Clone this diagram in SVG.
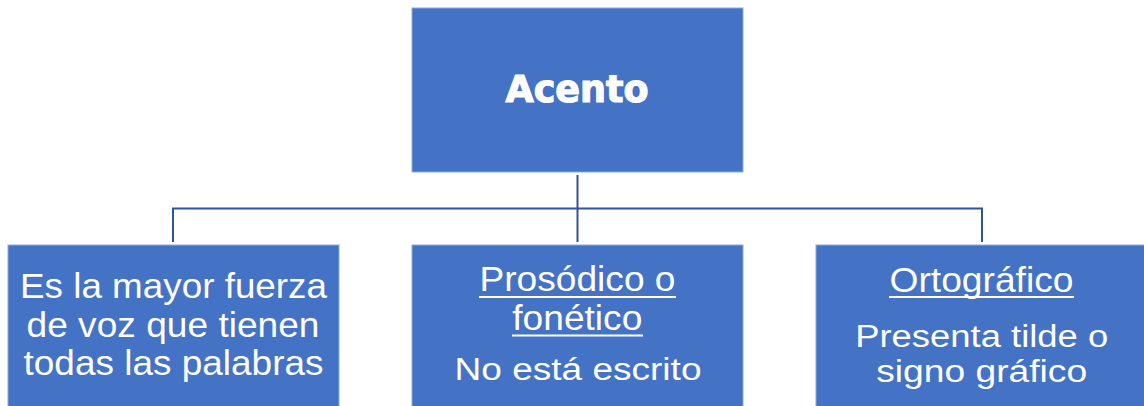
<svg xmlns="http://www.w3.org/2000/svg" width="1144" height="406" viewBox="0 0 1144 406">
  <style>
    .box { fill: #4472C4; stroke: #8FAADC; stroke-width: 1; }
    .conn { fill: none; stroke: #2F5597; stroke-width: 2; }
    .title { font-family: "DejaVu Sans", "Liberation Sans", sans-serif; font-weight: bold; font-size: 37px; fill: #ffffff; stroke: #ffffff; stroke-width: 1.2; text-anchor: middle; }
    .txt { font-family: "Liberation Sans", Arial, sans-serif; font-size: 35px; fill: #ffffff; text-anchor: middle; }
    .body { font-size: 31px; }
    .ul { stroke: #ffffff; stroke-width: 2; }
  </style>
  <rect width="1144" height="406" fill="#ffffff"/>
  <g id="connectors">
    <path class="conn" d="M577.5,175 V242"/>
    <path class="conn" d="M173,242 V208.5 H982 V242"/>
  </g>
  <g id="node-acento">
    <rect class="box" x="412" y="8" width="331" height="164"/>
    <text class="title" x="577" y="102" textLength="143" lengthAdjust="spacingAndGlyphs">Acento</text>
  </g>
  <g id="node-definicion">
    <rect class="box" x="8" y="245" width="331" height="164"/>
    <text class="txt" x="173.5" y="298" textLength="307" lengthAdjust="spacingAndGlyphs">Es la mayor fuerza</text>
    <text class="txt" x="173" y="337" textLength="293" lengthAdjust="spacingAndGlyphs">de voz que tienen</text>
    <text class="txt" x="173.5" y="375" textLength="300" lengthAdjust="spacingAndGlyphs">todas las palabras</text>
  </g>
  <g id="node-prosodico">
    <rect class="box" x="412" y="245" width="331" height="164"/>
    <text class="txt" x="577.5" y="291" textLength="196" lengthAdjust="spacingAndGlyphs">Prosódico o</text>
    <line class="ul" x1="479" y1="297" x2="676" y2="297"/>
    <text class="txt" x="577.3" y="329.5" textLength="130" lengthAdjust="spacingAndGlyphs">fonético</text>
    <line class="ul" x1="512" y1="335.5" x2="643" y2="335.5"/>
    <text class="txt body" x="578" y="380" textLength="247" lengthAdjust="spacingAndGlyphs">No está escrito</text>
  </g>
  <g id="node-ortografico">
    <rect class="box" x="816" y="245" width="331" height="164"/>
    <text class="txt" x="981.5" y="291.5" textLength="184" lengthAdjust="spacingAndGlyphs">Ortográfico</text>
    <line class="ul" x1="889" y1="297" x2="1074" y2="297"/>
    <text class="txt body" x="981.7" y="346.5" textLength="253" lengthAdjust="spacingAndGlyphs">Presenta tilde o</text>
    <text class="txt body" x="981.7" y="381.5" textLength="211" lengthAdjust="spacingAndGlyphs">signo gráfico</text>
  </g>
</svg>
